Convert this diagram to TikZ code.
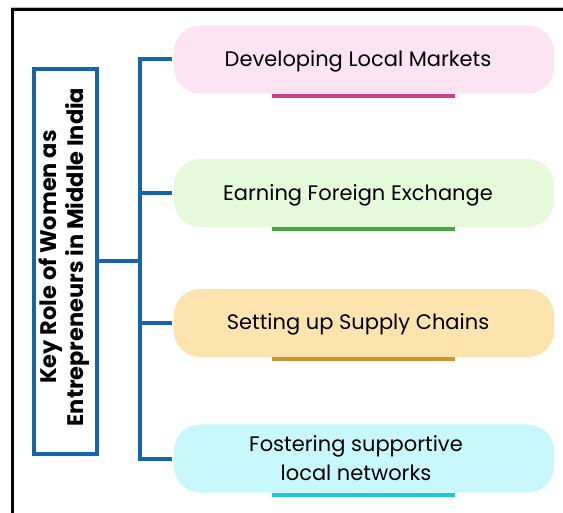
\documentclass[tikz,border=0pt]{standalone}
\usepackage{fontspec}
\setmainfont{Poppins}
\definecolor{connblue}{HTML}{1565A8}
\definecolor{pinkfill}{HTML}{FCE4F2}
\definecolor{pinkline}{HTML}{D43F83}
\definecolor{greenfill}{HTML}{E5FADB}
\definecolor{greenline}{HTML}{4AA53A}
\definecolor{orangefill}{HTML}{FDE3AD}
\definecolor{orangeline}{HTML}{CC9433}
\definecolor{cyanfill}{HTML}{C8F7FC}
\definecolor{cyanline}{HTML}{1FC6D6}
\begin{document}
\begin{tikzpicture}[x=1pt,y=-1pt,
  itembox/.style={draw=none,fill=#1,rounded corners=26pt,minimum width=380pt,minimum height=68pt,inner sep=0pt},
  itemtext/.style={font=\fontsize{21}{29}\selectfont,align=center,text=black},
  uline/.style={line width=4pt},
  conn/.style={draw=connblue,line width=4pt},
  frame/.style={line width=2.5pt,black}]
\useasboundingbox (0,0) rectangle (563,513);
% frame
\draw[gray!50,line width=1pt] (11,7.5) -- (563,7.5);
\draw[frame] (12.5,530) -- (12.5,9.5) -- (570,9.5);
% title
\node[draw=connblue,line width=4pt,minimum width=63pt,minimum height=385pt,inner sep=0pt] (t) at (65.5,261.5) {};
\node[rotate=90,font=\fontsize{22.5}{27}\selectfont\bfseries,align=center] (tt) at (64,257) {Key Role of Women as\\Entrepreneurs in Middle India};
% items
\node[itembox=pinkfill] (b1) at (364,59.5) {};
\node[itemtext] (l1) at (358,61.5) {Developing Local Markets};
\draw[uline,pinkline] (272,96) -- (455,96);
\node[itembox=greenfill] (b2) at (364,193) {};
\node[itemtext] (l2) at (358,195) {Earning Foreign Exchange};
\draw[uline,greenline] (272,229) -- (455,229);
\node[itembox=orangefill] (b3) at (364,323) {};
\node[itemtext] (l3) at (358,324.5) {Setting up Supply Chains};
\draw[uline,orangeline] (272,359) -- (455,359);
\node[itembox=cyanfill] (b4) at (364,458.5) {};
\node[itemtext] (l4) at (356,458) {Fostering supportive\\local networks};
\draw[uline,cyanline] (272,495) -- (455,495);
% connectors
\coordinate (tx) at (140,0);
\draw[conn] ([xshift=-2pt]b1.west) -- (b1.west -| tx) -- (b4.west -| tx) -- ([xshift=-2pt]b4.west);
\draw[conn] ([xshift=-2pt]b2.west) -- (b2.west -| tx);
\draw[conn] ([xshift=-2pt]b3.west) -- (b3.west -| tx);
\draw[conn] (t.east) -- (t.east -| tx);
\end{tikzpicture}
\end{document}
